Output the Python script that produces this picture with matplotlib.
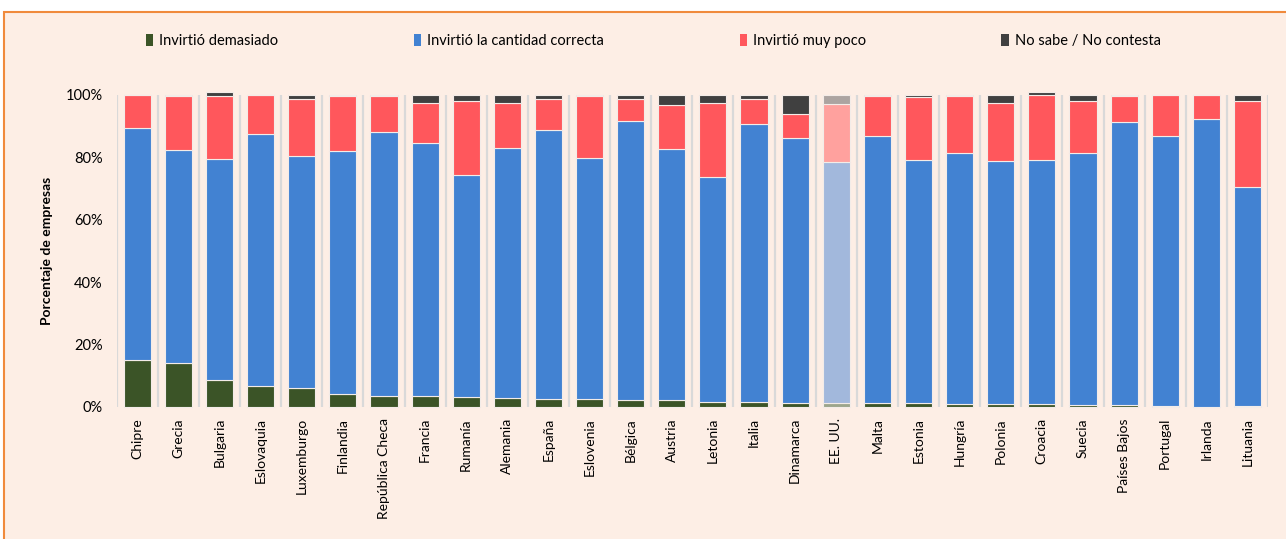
import numpy as np
import matplotlib
matplotlib.use("Agg")
import matplotlib.pyplot as plt
from matplotlib.patches import Patch, Rectangle
from matplotlib.ticker import PercentFormatter

plt.rcParams['font.family'] = ['Lato', 'DejaVu Sans']

paises = ["Chipre", "Grecia", "Bulgaria", "Eslovaquia", "Luxemburgo", "Finlandia",
          "República Checa", "Francia", "Rumanía", "Alemania", "España", "Eslovenia",
          "Bélgica", "Austria", "Letonia", "Italia", "Dinamarca", "EE. UU.", "Malta",
          "Estonia", "Hungría", "Polonia", "Croacia", "Suecia", "Países Bajos",
          "Portugal", "Irlanda", "Lituania"]

demasiado = [15.0, 14.0, 8.6, 6.8, 6.2, 4.1, 3.6, 3.6, 3.2, 2.9, 2.7, 2.7, 2.4, 2.4,
             1.6, 1.6, 1.4, 1.4, 1.3, 1.3, 1.1, 1.1, 1.1, 0.6, 0.5, 0.3, 0.0, 0.2]
correcta = [74.5, 68.4, 70.9, 80.7, 74.1, 77.9, 84.6, 80.9, 71.1, 80.0, 86.1, 77.0,
            89.3, 80.3, 72.2, 89.1, 84.9, 77.2, 85.5, 77.8, 80.4, 77.7, 78.0, 80.9,
            90.9, 86.7, 92.2, 70.4]
muy_poco = [10.5, 17.4, 20.2, 12.5, 18.4, 17.8, 11.6, 12.8, 23.9, 14.6, 9.9, 20.0,
            6.9, 14.1, 23.5, 7.9, 7.6, 18.4, 13.0, 20.2, 18.1, 18.5, 20.9, 16.6,
            8.4, 13.0, 7.8, 27.5]
ns_nc = [0.0, 0.2, 1.3, 0.0, 1.3, 0.2, 0.2, 2.7, 1.8, 2.5, 1.3, 0.3, 1.4, 3.2, 2.7,
         1.4, 6.1, 3.0, 0.2, 0.7, 0.4, 2.7, 1.0, 1.9, 0.2, 0.0, 0.0, 1.9]

series = [("Invirtió demasiado", demasiado, "#3b5427", "#9ca58b"),
          ("Invirtió la cantidad correcta", correcta, "#4282d2", "#a2b8dc"),
          ("Invirtió muy poco", muy_poco, "#ff575c", "#ffa19e"),
          ("No sabe / No contesta", ns_nc, "#404040", "#aca4a1")]

fig = plt.figure(figsize=(12.86, 5.39), dpi=100, facecolor="white")
# fondo con borde naranja
fig.patches.append(Rectangle((4 / 1286, -0.02), 1.02, (539 - 12) / 539 + 0.02,
                             transform=fig.transFigure, facecolor="#fdeee5",
                             edgecolor="#f08a3c", linewidth=1.5, zorder=-10))

ax = fig.add_axes([116.7 / 1286, 1 - 407 / 539, (1268 - 116.7) / 1286, 312 / 539])
ax.set_facecolor("none")

x = np.arange(len(paises))
us = paises.index("EE. UU.")
bottom = np.zeros(len(paises))
for nombre, vals, col, col_us in series:
    v = np.array(vals) / 100
    colors = [col_us if i == us else col for i in range(len(paises))]
    ax.bar(x, v, bottom=bottom, width=0.66, color=colors, edgecolor="#f3ece8",
           linewidth=0.8, clip_on=False, zorder=3)
    bottom += v

for b in np.arange(-0.5, len(paises), 1):
    ax.axvline(b, color="#d9d9d9", linewidth=1.6, zorder=1)

ax.set_xlim(-0.5, len(paises) - 0.5)
ax.set_ylim(0, 1)
ax.set_yticks(np.arange(0, 1.01, 0.2))
ax.yaxis.set_major_formatter(PercentFormatter(1.0, decimals=0))
ax.set_xticks(x)
ax.set_xticklabels(paises, rotation=90, fontsize=10)
ax.tick_params(axis="y", labelsize=10.5, length=0, pad=10)
ax.tick_params(axis="x", length=0, pad=8)
for s in ax.spines.values():
    s.set_visible(False)
ax.set_ylabel("Porcentaje de empresas", fontsize=10, fontweight="bold", labelpad=9)

handles = [Patch(facecolor=c, edgecolor="none") for _, _, c, _ in series]
fig.legend(handles, [s[0] for s in series], loc="center", ncol=4,
           bbox_to_anchor=(0.508, 1 - 41 / 539), frameon=False, fontsize=10.5,
           handlelength=0.5, handleheight=0.9, handletextpad=0.4, columnspacing=9.3)

fig.savefig("out.png", dpi=100, facecolor="white")
